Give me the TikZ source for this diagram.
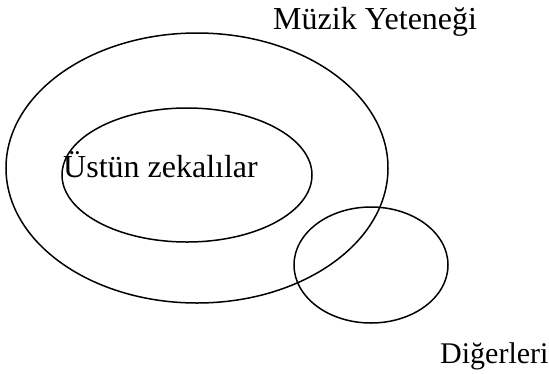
\documentclass[tikz,border=0pt]{standalone}
\usepackage{fontspec}
\setmainfont{Liberation Serif}
\begin{document}
\begin{tikzpicture}[x=1pt,y=-1pt,
  setline/.style={draw=black,line width=1.5pt},
  lbl/.style={anchor=base west,inner sep=0pt,text=black}]
\useasboundingbox (0,0) rectangle (549,373);
\fill[white] (0,0) rectangle (549,373);
% sets
\draw[setline] (197,168) ellipse [x radius=191, y radius=135];
\draw[setline] (187,175) ellipse [x radius=125, y radius=67];
\draw[setline] (371,265) ellipse [x radius=77, y radius=58];
% labels
\node[lbl,font=\fontsize{32}{36}\selectfont] (muzik) at (273,29) {Müzik Yeteneği};
\node[lbl,font=\fontsize{32}{36}\selectfont] (ustun) at (63,177) {Üstün zekalılar};
\node[lbl,font=\fontsize{30}{34}\selectfont] (diger) at (440,363) {Diğerleri};
\end{tikzpicture}
\end{document}
